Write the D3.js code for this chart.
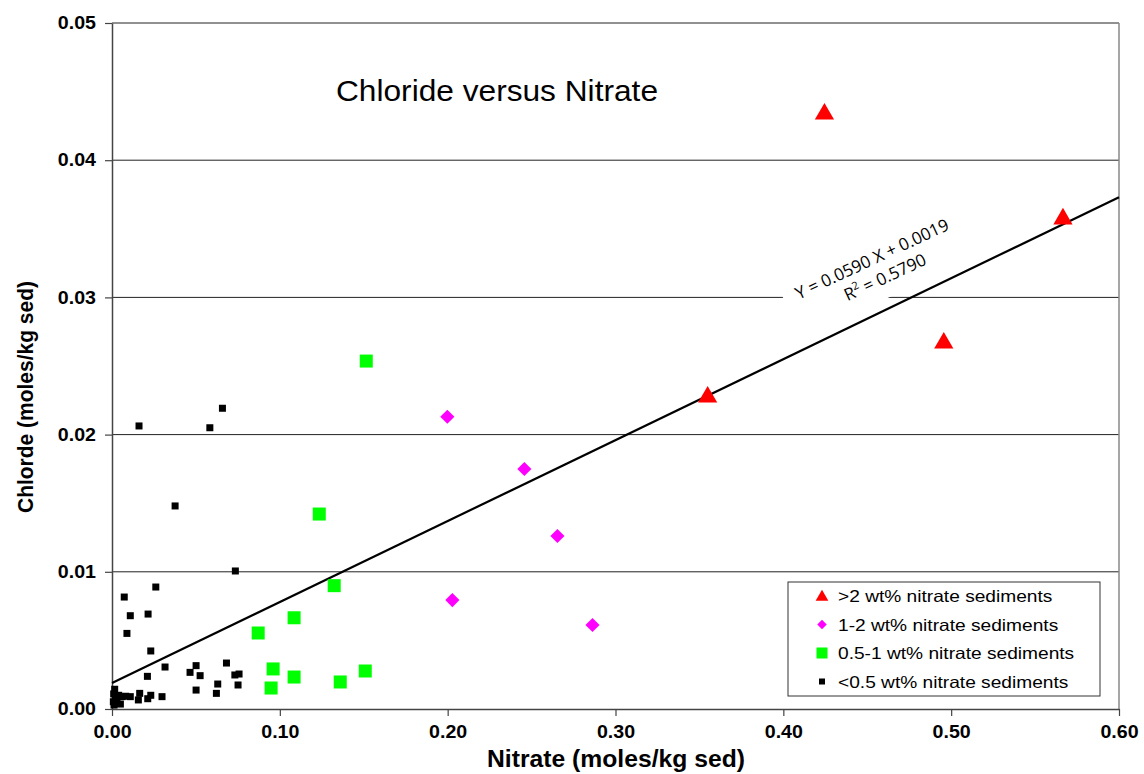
<!DOCTYPE html>
<html>
<head>
<meta charset="utf-8">
<script src="https://cdn.jsdelivr.net/npm/d3@7"></script>
<style>
  html, body { margin: 0; padding: 0; background: #fff; }
  svg { display: block; font-family: "Liberation Sans", Arial, sans-serif; }
</style>
</head>
<body>
<svg id="chart" width="1144" height="774"></svg>
<script>
// Sediment chemistry: chloride vs nitrate, grouped by nitrate weight percent
const highNitrateX = [0.4245, 0.5666, 0.4956, 0.3549];
const highNitrateY = [0.04344, 0.03579, 0.02675, 0.02281];

const midNitrateX = [0.1998, 0.2457, 0.2654, 0.2028, 0.2863];
const midNitrateY = [0.02130, 0.01749, 0.01261, 0.00794, 0.00612];

const lowNitrateX = [0.1515, 0.1235, 0.1324, 0.1085, 0.0871, 0.0960, 0.1085, 0.0948, 0.1360, 0.1509];
const lowNitrateY = [0.02536, 0.01421, 0.00899, 0.00665, 0.00554, 0.00292, 0.00233, 0.00153, 0.00197, 0.00277];

const traceNitrateX = [0.0658, 0.0161, 0.0583, 0.0376, 0.0735, 0.0073, 0.0261, 0.0109, 0.0215, 0.0089,
  0.0231, 0.0316, 0.0211, 0.0465, 0.0501, 0.0525, 0.0682, 0.0732, 0.0757, 0.0751,
  0.0630, 0.0501, 0.0622, 0.0298, 0.0231, 0.0213, 0.0165, 0.0157, 0.0109, 0.0082,
  0.0060, 0.0050, 0.0016, 0.0008, 0.0012, 0.0020, 0.0030, 0.0010, 0.0040];
const traceNitrateY = [0.02192, 0.02063, 0.02050, 0.01480, 0.01006, 0.00816, 0.00889, 0.00680, 0.00692, 0.00551,
  0.00423, 0.00306, 0.00238, 0.00267, 0.00316, 0.00243, 0.00335, 0.00248, 0.00255, 0.00175,
  0.00182, 0.00138, 0.00114, 0.00090, 0.00100, 0.00075, 0.00114, 0.00066, 0.00090, 0.00093,
  0.00090, 0.00036, 0.00144, 0.00053, 0.00029, 0.00085, 0.00060, 0.00110, 0.00100];

// Linear fit reported on the chart
const fitSlope = 0.0590;
const fitIntercept = 0.0019;
const fitR2 = 0.5790;

const xTicks = [0, 0.1, 0.2, 0.3, 0.4, 0.5, 0.6];
const yTicks = [0, 0.01, 0.02, 0.03, 0.04, 0.05];

const seriesNames = [">2 wt% nitrate sediments", "1-2 wt% nitrate sediments",
  "0.5-1 wt% nitrate sediments", "<0.5 wt% nitrate sediments"];

const svg = d3.select("#chart");
const plotLeft = 112, plotRight = 1119, plotTop = 23, plotBottom = 709;

const x = d3.scaleLinear().domain([0, 0.6]).range([plotLeft, plotRight]);
const y = d3.scaleLinear().domain([0, 0.05]).range([plotBottom, plotTop]);

// Widen glyphs horizontally by factor k (the chart's lettering is set wide)
function widen(sel, k) {
  sel.each(function () {
    const w = this.getComputedTextLength();
    d3.select(this).attr("textLength", w * k).attr("lengthAdjust", "spacingAndGlyphs");
  });
}

// Horizontal gridlines
svg.append("g")
  .selectAll("line")
  .data(yTicks.filter(d => d > 0))
  .join("line")
  .attr("x1", plotLeft).attr("x2", plotRight)
  .attr("y1", d => y(d)).attr("y2", d => y(d))
  .attr("stroke", "#222").attr("stroke-width", 1);

// Right frame edge
svg.append("line")
  .attr("x1", plotRight).attr("x2", plotRight).attr("y1", plotTop).attr("y2", plotBottom)
  .attr("stroke", "#888").attr("stroke-width", 1.5);

// Axes
const xAxis = svg.append("g")
  .attr("transform", `translate(0,${plotBottom})`)
  .call(d3.axisBottom(x).tickValues(xTicks).tickFormat(d3.format(".2f")).tickSize(7).tickSizeOuter(0));
const yAxis = svg.append("g")
  .attr("transform", `translate(${plotLeft},0)`)
  .call(d3.axisLeft(y).tickValues(yTicks).tickFormat(d3.format(".2f")).tickSize(7).tickSizeOuter(0));

[xAxis, yAxis].forEach(g => {
  g.select(".domain").attr("stroke", "#444").attr("stroke-width", 1.5);
  g.selectAll(".tick line").attr("stroke", "#444").attr("stroke-width", 1.2);
  g.selectAll("text")
    .attr("font-family", "'Liberation Sans', Arial, sans-serif")
    .attr("font-size", 17.5).attr("font-weight", "bold").attr("fill", "#000");
});
xAxis.selectAll("text").attr("dy", "1.1em");
yAxis.selectAll("text").attr("x", -16);
widen(xAxis.selectAll("text"), 1.12);
widen(yAxis.selectAll("text"), 1.12);

// Equation label backing, rotated along the fit line
const eq = svg.append("g").attr("transform", "translate(872,259) rotate(-25)");
eq.append("rect")
  .attr("x", -97).attr("y", -14).attr("width", 194).attr("height", 56)
  .attr("fill", "#fff");

// Trend line
const fitLine = d3.line().x(d => x(d)).y(d => y(fitSlope * d + fitIntercept));
svg.append("path")
  .datum([0, 0.6])
  .attr("d", fitLine)
  .attr("fill", "none").attr("stroke", "#000").attr("stroke-width", 2.2);

// Equation text
const eqText = svg.append("g").attr("transform", "translate(872,259) rotate(-25)");
eqText.append("text")
  .attr("x", 0).attr("y", 6)
  .attr("text-anchor", "middle")
  .attr("font-family", "'Open Sans', 'Liberation Sans', sans-serif")
  .attr("font-size", 17)
  .text(`Y = ${fitSlope.toFixed(4)} X + ${fitIntercept.toFixed(4)}`);
const r2 = eqText.append("text")
  .attr("x", 4).attr("y", 28)
  .attr("text-anchor", "middle")
  .attr("font-family", "'Open Sans', 'Liberation Sans', sans-serif")
  .attr("font-size", 17);
r2.append("tspan").text("R");
r2.append("tspan").attr("font-size", 11).attr("dy", -7).text("2");
r2.append("tspan").attr("dy", 7).text(` = ${fitR2.toFixed(4)}`);

// Point layers
const zip = (xs, ys) => xs.map((v, i) => [v, ys[i]]);

svg.append("g").selectAll("rect")
  .data(zip(traceNitrateX, traceNitrateY))
  .join("rect")
  .attr("x", d => x(d[0]) - 3.5).attr("y", d => y(d[1]) - 3.5)
  .attr("width", 7).attr("height", 7).attr("fill", "#000");

svg.append("g").selectAll("rect")
  .data(zip(lowNitrateX, lowNitrateY))
  .join("rect")
  .attr("x", d => x(d[0]) - 6.5).attr("y", d => y(d[1]) - 6.5)
  .attr("width", 13).attr("height", 13).attr("fill", "#00ff00");

const diamond = d3.symbol().type(d3.symbolSquare).size(100);
svg.append("g").selectAll("path")
  .data(zip(midNitrateX, midNitrateY))
  .join("path")
  .attr("d", diamond)
  .attr("transform", d => `translate(${x(d[0])},${y(d[1])}) rotate(45)`)
  .attr("fill", "#ff00ff");

const tri = d3.symbol().type(d3.symbolTriangle).size(160);
svg.append("g").selectAll("path")
  .data(zip(highNitrateX, highNitrateY))
  .join("path")
  .attr("d", tri)
  .attr("transform", d => `translate(${x(d[0])},${y(d[1]) + 1})`)
  .attr("fill", "#ff0000");

// Title
svg.append("text")
  .attr("x", 497).attr("y", 101)
  .attr("text-anchor", "middle")
  .attr("font-size", 29)
  .attr("textLength", 322).attr("lengthAdjust", "spacingAndGlyphs")
  .text("Chloride versus Nitrate");

// Axis titles
svg.append("text")
  .attr("x", 616).attr("y", 767)
  .attr("text-anchor", "middle")
  .attr("font-size", 23).attr("font-weight", "bold")
  .attr("textLength", 258).attr("lengthAdjust", "spacingAndGlyphs")
  .text("Nitrate (moles/kg sed)");
svg.append("text")
  .attr("transform", "translate(33,397) rotate(-90)")
  .attr("text-anchor", "middle")
  .attr("font-size", 22).attr("font-weight", "bold")
  .attr("textLength", 232).attr("lengthAdjust", "spacingAndGlyphs")
  .text("Chlorde (moles/kg sed)");

// Legend
const legend = svg.append("g").attr("transform", "translate(788,582)");
legend.append("rect")
  .attr("x", 0).attr("y", 0).attr("width", 312).attr("height", 114)
  .attr("fill", "#fff").attr("stroke", "#333").attr("stroke-width", 1);
const legendSymbols = [
  g => g.append("path").attr("d", d3.symbol().type(d3.symbolTriangle).size(70)).attr("fill", "#ff0000").attr("transform", "translate(0,1)"),
  g => g.append("path").attr("d", d3.symbol().type(d3.symbolSquare).size(45)).attr("fill", "#ff00ff").attr("transform", "rotate(45)"),
  g => g.append("rect").attr("x", -5.5).attr("y", -5.5).attr("width", 11).attr("height", 11).attr("fill", "#00ff00"),
  g => g.append("rect").attr("x", -3).attr("y", -3).attr("width", 6).attr("height", 6).attr("fill", "#000")
];
seriesNames.forEach((name, i) => {
  const row = legend.append("g").attr("transform", `translate(34,${14 + i * 28.5})`);
  legendSymbols[i](row);
  row.append("text")
    .attr("x", 16).attr("y", 6)
    .attr("font-size", 16.5)
    .text(name);
});
widen(legend.selectAll("text"), 1.16);
</script>
</body>
</html>
